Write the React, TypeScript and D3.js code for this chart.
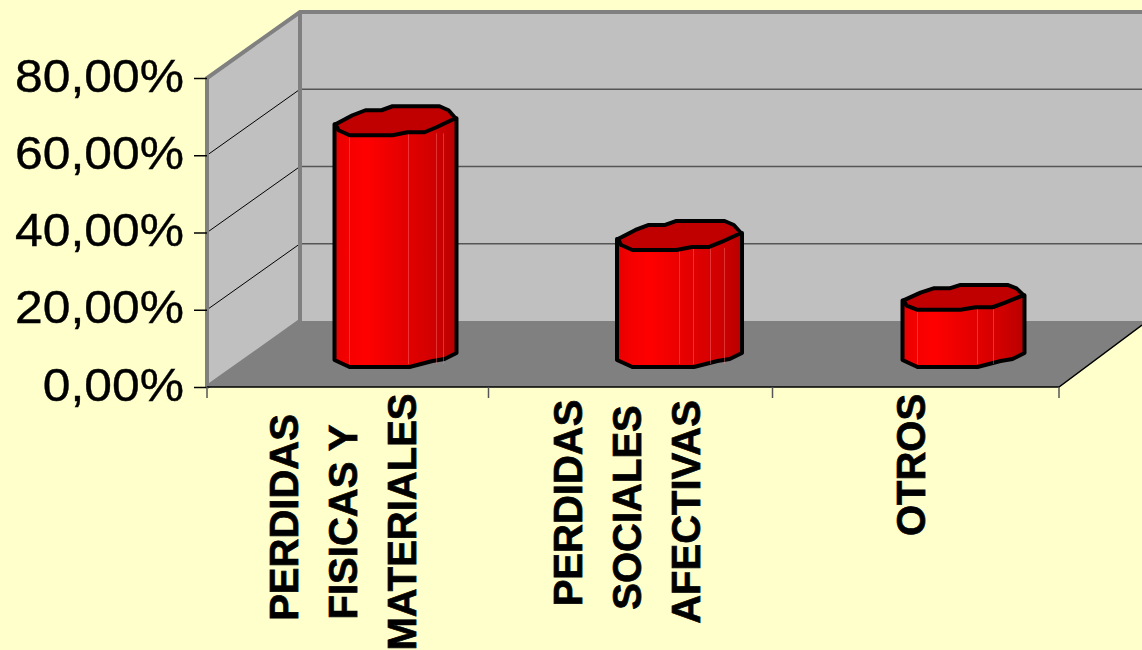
import React, { useEffect, useRef } from "react";
import * as d3 from "d3";

const categories = ["PERDIDAS FISICAS Y MATERIALES", "PERDIDAS SOCIALES AFECTIVAS", "OTROS"];
const values = [60, 30.3, 14.8];
const yTicks = [0, 20, 40, 60, 80];
const categoryLines = [
	["PERDIDAS", "FISICAS Y", "MATERIALES"],
	["PERDIDAS", "SOCIALES", "AFECTIVAS"],
	["OTROS"],
];
// vertical centre of each wrapped label line, the wrapping in the original is uneven
const lineCenters = [
	[517.5, 522, 522],
	[503, 507.5, 512],
	[465],
];

// Outline of the cylinder, relative to bar centre / front top edge
const topRing: [number, number][] = [
	[-60, -11], [-43, -20], [-30, -25], [-14, -25], [-3, -29], [44, -29], [53, -25], [60, -17],
	[41, -8], [29, -3], [12, -3], [-3, 0], [-46, 0], [-57, -5],
];
const bottomFront: [number, number][] = [
	[-61, -7], [-46, 0], [14, 0], [37, -6], [49, -8], [61, -14],
];
const facetLines = [
	[-46, 13, 41, 48],
	[0, 14, 31, 45],
	[-46, 14, 30],
];
// the cylinders are not quite the same size in the original
const barWidths = [122, 125, 122];
const ringFlatten = [1, 1, 0.86];

const w = 1142;
const h = 650;
const depthX = 93;
const depthY = 66;

export default function App() {
	const ref = useRef<SVGSVGElement>(null);

	useEffect(() => {
		const svg = d3.select(ref.current);
		svg.selectAll("*").remove();

		const xScale = d3.scaleBand<string>().domain(categories).range([207, 1059]);
		const yScale = d3.scaleLinear().domain([0, 80]).range([387, 78]);
		const left = xScale.range()[0];
		const right = xScale.range()[1];
		const y0 = yScale(0);
		const yTop = yScale(80);
		const poly = (pts: [number, number][]) => pts.map((p) => p.join(",")).join(" ");

		// Gradient for bar sides
		const grad = svg
			.append("defs")
			.append("linearGradient")
			.attr("id", "barSide")
			.attr("x1", 0)
			.attr("x2", 1)
			.attr("y1", 0)
			.attr("y2", 0);
		[
			[0, "#e80000"],
			[0.12, "#f60000"],
			[0.26, "#ff0000"],
			[0.55, "#e60000"],
			[0.8, "#d20000"],
			[1, "#b80000"],
		].forEach(([o, c]) => grad.append("stop").attr("offset", o).attr("stop-color", c));

		// Walls and floor
		svg
			.append("polygon")
			.attr("fill", "#c0c0c0")
			.attr("points", poly([[left, yTop], [left + depthX, yTop - depthY], [left + depthX, y0 - depthY], [left, y0]]));
		svg
			.append("polygon")
			.attr("fill", "#c0c0c0")
			.attr("points", poly([[left + depthX, yTop - depthY], [w, yTop - depthY], [w, y0 - depthY], [left + depthX, y0 - depthY]]));
		svg
			.append("polygon")
			.attr("fill", "#808080")
			.attr("points", poly([[left, y0], [left + depthX, y0 - depthY], [w, y0 - depthY], [w, y0 - depthY + 4], [right, y0]]));

		// Gridlines
		yTicks.slice(1, -1).forEach((t) => {
			svg
				.append("line")
				.attr("x1", left)
				.attr("y1", yScale(t))
				.attr("x2", left + depthX)
				.attr("y2", yScale(t) - depthY)
				.attr("stroke", "#000")
				.attr("stroke-width", 1);
			svg
				.append("line")
				.attr("x1", left + depthX)
				.attr("y1", yScale(t) - depthY)
				.attr("x2", w)
				.attr("y2", yScale(t) - depthY)
				.attr("stroke", "#555")
				.attr("stroke-width", 1.5);
		});

		// Wall borders
		svg
			.append("path")
			.attr("fill", "none")
			.attr("stroke", "#808080")
			.attr("stroke-width", 4)
			.attr(
				"d",
				`M${left},${y0}V${yTop}L${left + depthX},${yTop - depthY}H${w}M${left + depthX},${yTop - depthY}V${y0 - depthY}L${left},${y0}`
			);

		// Floor edge
		svg
			.append("path")
			.attr("fill", "none")
			.attr("stroke", "#000")
			.attr("stroke-width", 1.5)
			.attr("d", `M${left},${y0}H${right}L${w},${y0 - depthY + 4}`);

		// Bars
		categories.forEach((c, i) => {
			const cx = xScale(c)! + xScale.bandwidth() / 2 + depthX / 2;
			const topY = yScale(values[i]) - 20;
			const baseY = yScale(0) - 20;
			const g = svg.append("g");
			const scaleU = barWidths[i] / 122;
			const flat = ringFlatten[i];
			const top = topRing.map(([u, v]) => [cx + u * scaleU, topY + v * flat] as [number, number]);
			const bottom = bottomFront.map(([u, v]) => [cx + u * scaleU, baseY + v] as [number, number]);

			const sidePts: [number, number][] = [
				[cx - 61 * scaleU, topY - 11 * flat],
				...bottom,
				[cx + 61 * scaleU, topY - 17 * flat],
			];
			g.append("polygon")
				.attr("points", poly(sidePts))
				.attr("fill", "url(#barSide)")
				.attr("stroke", "#000")
				.attr("stroke-width", 4)
				.attr("stroke-linejoin", "round");
			facetLines[i].forEach((u) => {
				g.append("line")
					.attr("x1", cx + u)
					.attr("x2", cx + u)
					.attr("y1", topY - 2)
					.attr("y2", baseY - 3)
					.attr("stroke", "#ff8080")
					.attr("stroke-opacity", 0.4)
					.attr("stroke-width", 1);
			});
			g.append("polygon")
				.attr("points", poly(top))
				.attr("fill", "#c00000")
				.attr("stroke", "#000")
				.attr("stroke-width", 4)
				.attr("stroke-linejoin", "round");
		});

		// Y axis
		const yAxis = d3
			.axisLeft(yScale)
			.tickValues(yTicks)
			.tickSize(13)
			.tickFormat((d) => d3.format(".2f")(+d).replace(".", ",") + "%");
		const yG = svg.append("g").attr("transform", `translate(${left},0)`).call(yAxis);
		yG.select(".domain").remove();
		yG.selectAll("line").attr("stroke", "#000").attr("stroke-width", 1.5);
		yG
			.selectAll("text")
			.attr("x", 0)
			.attr("dy", "0.3em")
			.attr("fill", "#000")
			.attr("stroke", "#000")
			.attr("stroke-width", 0.4)
			.style("font-family", "'Liberation Sans', Arial, sans-serif")
			.style("font-size", "47px")
			// original glyphs are a bit wider than tall
			.attr("transform", "translate(-23,-1) scale(1.06,1)");

		// X axis ticks, the two inner ones sit slightly left of the band edges in the original
		const tickNudge = -2.5;
		[...categories.map((c, i) => xScale(c)! + (i ? tickNudge : 0)), right].forEach((t) => {
			svg
				.append("line")
				.attr("x1", t)
				.attr("x2", t)
				.attr("y1", y0)
				.attr("y2", y0 + 11)
				.attr("stroke", "#555")
				.attr("stroke-width", 1.5);
		});

		// Category labels
		categoryLines.forEach((lines, i) => {
			const center = xScale(categories[i])! + xScale.bandwidth() / 2 + 7.5;
			lines.forEach((line, j) => {
				const bx = center + (j - (lines.length - 1) / 2) * 59;
				svg
					.append("text")
					.attr("transform", `translate(${bx},${lineCenters[i][j]}) rotate(-90)`)
					.attr("text-anchor", "middle")
					.attr("fill", "#000")
					.attr("stroke", "#000")
					.attr("stroke-width", 0.7)
					.style("font-family", "'Liberation Sans', Arial, sans-serif")
					.style("font-size", "40px")
					.style("font-weight", "700")
					.text(line);
			});
		});
	}, []);

	return (
		<svg
			ref={ref}
			width={w}
			height={h}
			viewBox={`0 0 ${w} ${h}`}
			style={{ position: "fixed", left: 0, top: 0, background: "#ffffcc", display: "block" }}
		/>
	);
}
